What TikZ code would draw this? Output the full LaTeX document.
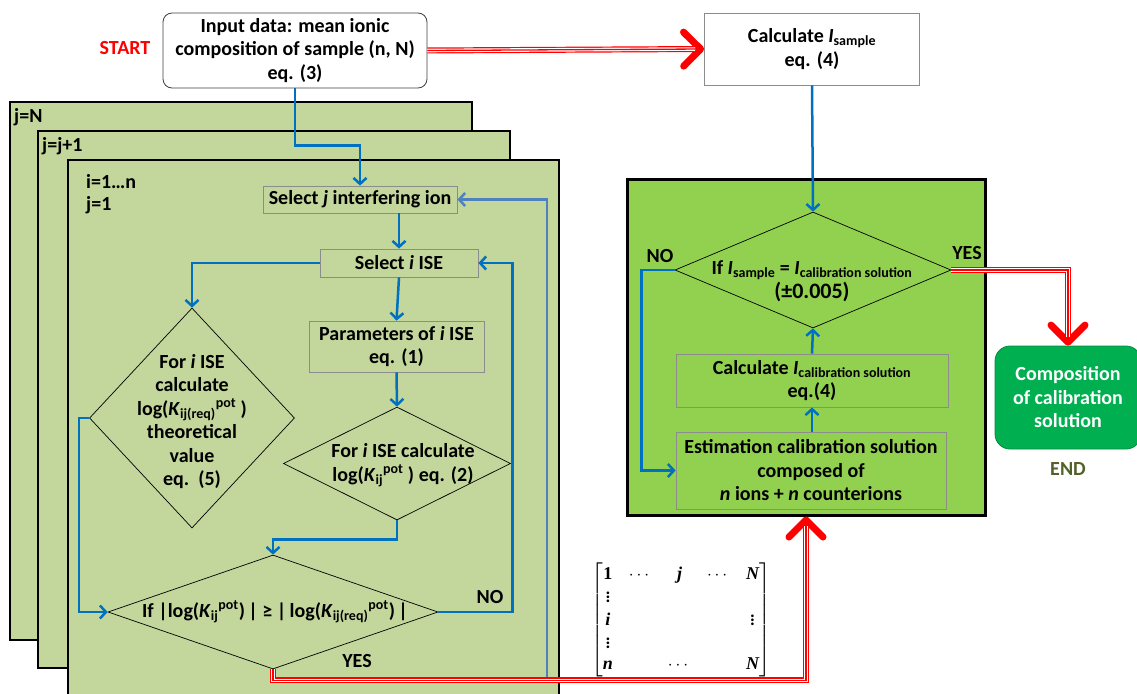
\documentclass[tikz,border=0pt]{standalone}
\usepackage{amsmath}
\usepackage{fontspec}
\setmainfont{Carlito}
\newfontfamily\serifbf{Liberation Serif}
\usetikzlibrary{shapes.geometric,arrows.meta}
\definecolor{panelgreen}{HTML}{C3D69B}
\definecolor{boxgreen}{HTML}{92D050}
\definecolor{compgreen}{HTML}{00B050}
\definecolor{flowblue}{HTML}{0070C0}
\definecolor{loopblue}{HTML}{4F81BD}
\definecolor{endgreen}{HTML}{4F6228}
\definecolor{boxgray}{HTML}{8C8C8C}
\newcommand{\mxv}[1]{\text{\serifbf\bfseries\itshape #1}}
\newcommand{\mxone}{\text{\serifbf\bfseries 1}}

\begin{document}
\begin{tikzpicture}[x=1pt, y=-1pt, font=\fontsize{20}{23.5}\selectfont\bfseries,
		panel/.style={draw=black, line width=2.5pt, fill=panelgreen},
		box/.style={draw=boxgray, line width=0.8pt, inner sep=0pt, align=center},
		decision/.style={diamond, draw=black, line width=0.7pt, inner sep=0pt, aspect=1},
		txt/.style={align=center, inner sep=0pt},
		flow/.style={draw=flowblue, line width=2.5pt, -{Straight Barb[length=6pt,width=13pt]}},
		redpipe/.style={draw=red, line width=6pt, -{Straight Barb[length=17pt,width=34pt,line width=7pt,round]},
			postaction={draw=white, line width=3.6pt, -, shorten >=9pt},
			postaction={draw=red, line width=1.3pt, -, shorten >=9pt}}]
				\useasboundingbox (0,0) rectangle (1137,693);
				\clip (0,0) rectangle (1137,693);
				\draw[panel] (10,102) rectangle (472,640);
				\draw[panel] (38,131) rectangle (510,668);
				\draw[panel] (68,160) rectangle (559,705);
				\node[txt, anchor=west] (lblN) at (14,117) {j=N};
				\node[txt, anchor=west] (lblJ) at (42,146) {j=j+1};
				\node[txt, anchor=west] (lblI) at (86,182) {i=1…n};
				\node[txt, anchor=west] (lblOne) at (86,205) {j=1};
				\node[txt, text=red] (start) at (125,48) {START};
				\node[box, draw=darkgray, rounded corners=9pt, fill=white, minimum width=264pt, minimum height=75pt] (input) at (295,50.5) {Input data: mean ionic\\composition of sample (n, N)\\eq. (3)};
				\node[box, fill=white, minimum width=215pt, minimum height=72pt] (calcS) at (812,49) {Calculate \textit{I}\textsubscript{sample}\\eq. (4)};
				\node[box, minimum width=194pt, minimum height=27pt] (selJ) at (360,199.5) {Select \textit{j} interfering ion};
				\node[box, minimum width=158pt, minimum height=28pt] (selI) at (399,263) {Select \textit{i} ISE};
				\node[box, minimum width=175pt, minimum height=51pt] (param) at (396.5,346.5) {Parameters of \textit{i} ISE\\eq. (1)};
				\node[decision, minimum width=205pt, minimum height=220pt] (D1) at (192,418) {};
				\node[txt] (D1t) at (192,421.5) {For \textit{i} ISE\\calculate\\log(\textit{K}\textsubscript{ij(req)}\textsuperscript{pot} )\\theoretical\\value\\eq.~~(5)};
				\node[decision, minimum width=227pt, minimum height=113pt] (D2) at (397,463.5) {};
				\node[txt] (D2t) at (403,465) {For \textit{i} ISE calculate\\log(\textit{K}\textsubscript{ij}\textsuperscript{pot} ) eq. (2)};
				\node[decision, minimum width=330pt, minimum height=114pt] (D3) at (273,612) {};
				\node[txt] (D3t) at (275,612) {If |log(\textit{K}\textsubscript{ij}\textsuperscript{pot})\,| ≥ |\,log(\textit{K}\textsubscript{ij(req)}\textsuperscript{pot})\,|};
				\node[txt] (no1) at (490,597) {NO};
				\node[txt] (yes1) at (357,661) {YES};
				\node[draw=black, line width=3pt, fill=boxgreen, inner sep=0pt, minimum width=358pt, minimum height=336pt] (gbox) at (806,347) {};
				\node[decision, minimum width=276pt, minimum height=116pt] (D4) at (813,270) {};
				\node[txt] (D4t) at (812,281) {If \textit{I}\textsubscript{sample} = \textit{I}\textsubscript{calibration solution}\\{\fontsize{22}{23.5}\selectfont(±0.005)}};
				\node[box, minimum width=272pt, minimum height=53pt] (calcC) at (812,380.5) {Calculate \textit{I}\textsubscript{calibration solution}\\eq.(4)};
				\node[box, minimum width=270pt, minimum height=77pt] (est) at (811,470.5) {Estimation calibration solution\\composed of\\\textit{n} ions + \textit{n} counterions};
				\node[txt] (no2) at (660,256) {NO};
				\node[txt] (yes2) at (967,253) {YES};
				\node[box, draw=compgreen!80!black, fill=compgreen, rounded corners=15pt, text=white, minimum width=146pt, minimum height=103pt] (comp) at (1068,397.5) {Composition\\of calibration\\solution};
				\node[txt, text=endgreen] (end) at (1068,469) {END};
				\node[inner sep=0pt] (mat) at (681,620) {\fontsize{18}{21.5}\selectfont\arraycolsep=8pt$\begin{bmatrix} \mxone & \cdots & \mxv{j} & \cdots & \mxv{N}\\ \vdots &&&& \\ \mxv{i} &&&& \vdots\\ \vdots &&&& \\ \mxv{n} && \cdots && \mxv{N}\end{bmatrix}$};
				\coordinate (loopstart) at (547,678);
				\draw[flow] (input.south) -- ++(0,57) -| (selJ.north);
				\draw[flow] (selJ.south -| selI.north) -- (selI.north);
				\draw[flow] (selI.west) -| (D1.north);
				\draw[flow] (selI.south) -- (param.north);
				\draw[flow] (param.south) -- (D2.north);
				\draw[flow] (D2.south) -- ++(0,19) -| (D3.north);
				\draw[flow] (D1.west) -- ++(-10,0) |- (D3.west);
				\draw[flow] (D3.east) -- ++(74,0) |- (selI.east);
				\draw[flow, draw=loopblue] (loopstart) |- (selJ.east);
				\draw[flow] (calcS.south) -- (D4.north);
				\draw[flow] (est.north -| calcC.south) -- (calcC.south);
				\draw[flow] (calcC.north) -- (D4.south);
				\draw[flow] (D4.west) -- ++(-33,0) |- (est.west);
				\draw[redpipe] (input.east) -- (calcS.west);
				\draw[redpipe] (D3.south) -- ++(0,11) -| (gbox.south);
				\draw[redpipe] (D4.east) -| (comp.north);
			\end{tikzpicture}
\end{document}
